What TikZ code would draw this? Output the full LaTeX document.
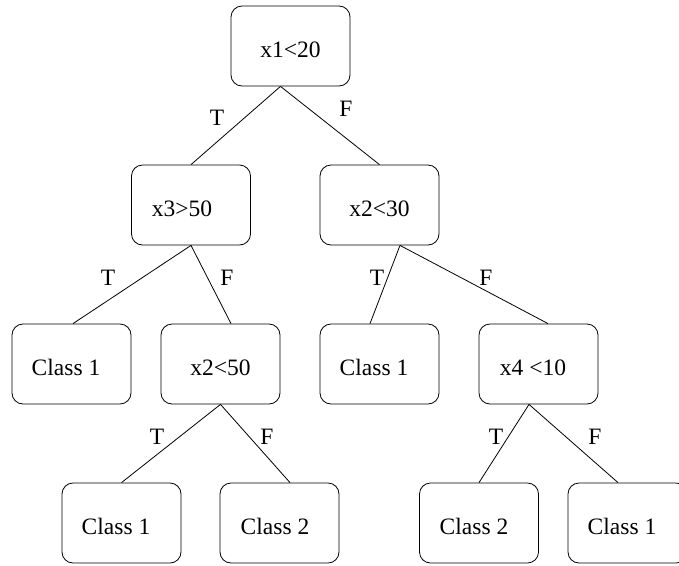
\documentclass[tikz,border=0pt]{standalone}
\usepackage{fontspec}
\setmainfont{Liberation Serif}
\begin{document}
\begin{tikzpicture}[x=1pt,y=-1pt,
  treebox/.style={draw, line width=0.8pt, rounded corners=11pt, minimum width=119pt, minimum height=80pt, inner sep=0pt, text height=22pt, text depth=0pt, font=\fontsize{23.5}{28}\selectfont},
  edgelbl/.style={inner sep=0pt, font=\fontsize{23.5}{28}\selectfont},
  conn/.style={line width=0.8pt}]
\useasboundingbox (0,0) rectangle (679,565);
% nodes
\node[treebox] (r)   at (290.5,46)  {x1<20};
\node[treebox] (a)   at (191,205)   {x3>50\hspace*{18pt}};
\node[treebox] (b)   at (379.5,205) {x2<30};
\node[treebox] (c1)  at (71.5,364)  {Class 1\hspace*{11pt}};
\node[treebox] (d)   at (220.5,364) {x2<50};
\node[treebox] (c2)  at (379.5,364) {Class 1\hspace*{11pt}};
\node[treebox] (e)   at (538.5,364) {x4 <10\hspace*{11pt}};
\node[treebox] (c3)  at (121.5,523) {Class 1\hspace*{11pt}};
\node[treebox] (c4)  at (279.5,523) {Class 2\hspace*{9pt}};
\node[treebox] (c5)  at (479,523)   {Class 2\hspace*{10pt}};
\node[treebox] (c6)  at (627.5,523) {Class 1\hspace*{11pt}};
% connectors
\draw[conn] ([xshift=-10pt]r.south) -- (a.north);
\draw[conn] ([xshift=-10pt]r.south) -- (b.north);
\draw[conn] (a.south) -- ([xshift=1.5pt]c1.north);
\draw[conn] (a.south) -- ([xshift=10.5pt]d.north);
\draw[conn] ([xshift=20.5pt]b.south) -- ([xshift=-9.5pt]c2.north);
\draw[conn] ([xshift=20.5pt]b.south) -- ([xshift=9.5pt]e.north);
\draw[conn] (d.south) -- (c3.north);
\draw[conn] (d.south) -- ([xshift=10.5pt]c4.north);
\draw[conn] ([xshift=-9.5pt]e.south) -- (c5.north);
\draw[conn] ([xshift=-9.5pt]e.south) -- ([xshift=-9.5pt]c6.north);
% labels
\node[edgelbl] (t1) at (217,118) {T};
\node[edgelbl] (f1) at (346,109) {F};
\node[edgelbl] (t2) at (108,278) {T};
\node[edgelbl] (f2) at (227,278) {F};
\node[edgelbl] (t3) at (377,278) {T};
\node[edgelbl] (f3) at (486,278) {F};
\node[edgelbl] (t4) at (157,437) {T};
\node[edgelbl] (f4) at (267,437) {F};
\node[edgelbl] (t5) at (496,437) {T};
\node[edgelbl] (f5) at (595,437) {F};
\end{tikzpicture}
\end{document}
